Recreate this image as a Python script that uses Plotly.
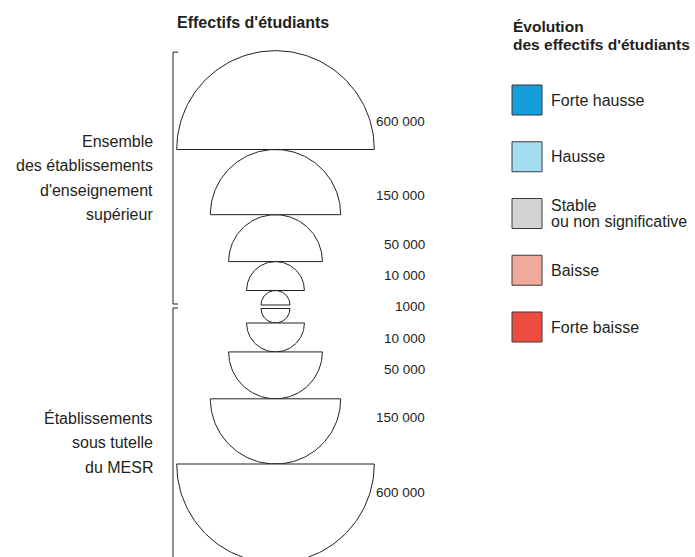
import numpy as np
import plotly.graph_objects as go

# ---------------- data ----------------
VALUES = [1000, 10000, 50000, 150000, 600000]
VALUE_LABELS = ["1000", "10 000", "50 000", "150 000", "600 000"]
GROUP_TOP = ["Ensemble", "des établissements", "d'enseignement", "supérieur"]
GROUP_BOTTOM = ["Établissements", "sous tutelle", "du MESR"]
TITLE_SIZES = "Effectifs d'étudiants"
TITLE_EVOL = ["Évolution", "des effectifs d'étudiants"]
EVOL_CATS = [["Forte hausse"], ["Hausse"], ["Stable", "ou non significative"],
             ["Baisse"], ["Forte baisse"]]
EVOL_COLORS = ["#149fdb", "#a4dcf0", "#d1d2d4", "#f0a99b", "#ef4c40"]

# ---------------- style / layout ----------------
W, H = 695, 557
FONT = "Liberation Sans, Arial, sans-serif"
TXT = "#231f20"
CX = 275.5           # centre of the symbols
TOP_BASE = 305.0     # flat side of the smallest upper half-disc
BOT_BASE = 308.5     # flat side of the smallest lower half-disc
R_REF, V_REF, EXP = 14.5, 1000.0, 0.3
LABEL_X = 427
LABEL_OFFSETS = [0, 15, 17.5, 19, 28]


def radius(v):
    return R_REF * (v / V_REF) ** EXP


fig = go.Figure()

t = np.linspace(0, np.pi, 120)
base_up = TOP_BASE
base_dn = BOT_BASE
geom = []
for v in VALUES:
    r = radius(v)
    xs = CX + r * np.cos(t)
    ys = base_up - r * np.sin(t)
    fig.add_trace(go.Scatter(x=np.append(xs, xs[0]), y=np.append(ys, ys[0]),
                             mode="lines", fill="toself", fillcolor="white",
                             line=dict(color="#231f20", width=1), hoverinfo="skip",
                             showlegend=False))
    ys2 = base_dn + r * np.sin(t)
    fig.add_trace(go.Scatter(x=np.append(xs, xs[0]), y=np.append(ys2, ys2[0]),
                             mode="lines", fill="toself", fillcolor="white",
                             line=dict(color="#231f20", width=1), hoverinfo="skip",
                             showlegend=False))
    geom.append((base_up, base_dn, r))
    base_up -= r
    base_dn += r

top_extent = base_up

ann = []
NUM_FONT = dict(family=FONT, size=13.5, color=TXT)
for i, (lab, (bu, bd, r)) in enumerate(zip(VALUE_LABELS, geom)):
    ys = [(bu + bd) / 2] if i == 0 else [bu - LABEL_OFFSETS[i], bd + LABEL_OFFSETS[i]]
    for yy in ys:
        ann.append(dict(x=LABEL_X, y=yy, text=lab, xanchor="right",
                        yanchor="middle", showarrow=False, font=NUM_FONT))

# brackets
BX = 173
shapes = []
bracket_top = [top_extent + 1.5, TOP_BASE - 1]
bracket_bot = [BOT_BASE - 0.5, H + 10]
for (y0, y1), ticks in ((bracket_top, (0, 1)), (bracket_bot, (0,))):
    shapes.append(dict(type="line", xref="x", yref="y", x0=BX, x1=BX, y0=y0, y1=y1,
                       line=dict(color="#231f20", width=1)))
    for k in ticks:
        yy = (y0, y1)[k]
        shapes.append(dict(type="line", xref="x", yref="y", x0=BX, x1=BX + 5,
                           y0=yy, y1=yy, line=dict(color="#231f20", width=1)))

# group labels (one annotation per line to control leading)
GROUP_FONT = dict(family=FONT, size=16, color=TXT)
for lines, y0 in ((GROUP_TOP, 141), (GROUP_BOTTOM, 418)):
    for j, line in enumerate(lines):
        ann.append(dict(x=155, y=y0 + 24.5 * j, text=line, xanchor="right",
                        yanchor="middle", showarrow=False, font=GROUP_FONT))

# titles
ann.append(dict(x=175, y=22, text="<b>%s</b>" % TITLE_SIZES, xanchor="left",
                yanchor="middle", showarrow=False,
                font=dict(family=FONT, size=16, color=TXT)))
for j, line in enumerate(TITLE_EVOL):
    ann.append(dict(x=511, y=26 + 18 * j, text="<b>%s</b>" % line, xanchor="left",
                    yanchor="middle", showarrow=False,
                    font=dict(family=FONT, size=15.5, color=TXT)))

# evolution legend
SQ_X, SQ_Y0, SQ_STEP, SQ = 527, 100, 56.75, 30
sq_y = [SQ_Y0 + SQ_STEP * k for k in range(len(EVOL_CATS))]
for y, c in zip(sq_y, EVOL_COLORS):
    shapes.append(dict(type="rect", xref="x", yref="y", x0=SQ_X - SQ / 2,
                       x1=SQ_X + SQ / 2, y0=y - SQ / 2, y1=y + SQ / 2,
                       fillcolor=c, line=dict(color="#3a3a3a", width=1)))
LEG_FONT = dict(family=FONT, size=16, color=TXT)
for y, lines in zip(sq_y, EVOL_CATS):
    n = len(lines)
    for j, line in enumerate(lines):
        yy = y + (j - (n - 1) / 2) * 16
        ann.append(dict(x=549, y=yy, text=line, xanchor="left", yanchor="middle",
                        showarrow=False, font=LEG_FONT))

fig.update_layout(
    width=W, height=H, margin=dict(l=0, r=0, t=0, b=0),
    paper_bgcolor="white", plot_bgcolor="white",
    xaxis=dict(range=[0, W], visible=False, fixedrange=True),
    yaxis=dict(range=[H, 0], visible=False, fixedrange=True),
    shapes=shapes, annotations=ann, showlegend=False,
)

fig.write_html("out.html", config={"displayModeBar": False},
               post_script="document.body.style.margin='0';document.body.style.overflow='hidden';")
